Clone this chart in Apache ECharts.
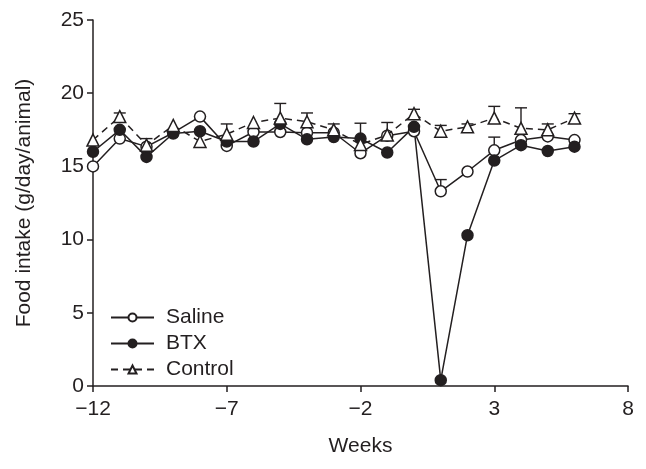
<!DOCTYPE html>
<html>
<head>
<meta charset="utf-8">
<script src="https://cdn.jsdelivr.net/npm/echarts@6/dist/echarts.min.js"></script>
<style>
  html, body { margin: 0; padding: 0; background: #fff; }
  #chart { width: 646px; height: 469px; }
</style>
</head>
<body>
<div id="chart"></div>
<script>
// weekly food intake, g/day/animal
var weeks = [-12, -11, -10, -9, -8, -7, -6, -5, -4, -3, -2, -1, 0, 1, 2, 3, 4, 5, 6];
var saline = [15.0, 16.9, 16.35, 17.3, 18.4, 16.4, 17.35, 17.35, 17.3, 17.3, 15.9, 17.1, 17.4, 13.3, 14.65, 16.1, 16.8, 17.05, 16.8];
var btx = [16.0, 17.5, 15.65, 17.25, 17.4, 16.7, 16.7, 17.9, 16.85, 17.0, 16.9, 15.95, 17.7, 0.4, 10.3, 15.4, 16.45, 16.05, 16.35];
var control = [16.8, 18.4, 16.45, 17.8, 16.7, 17.2, 18.0, 18.3, 18.05, 17.5, 16.5, 17.15, 18.6, 17.4, 17.7, 18.3, 17.6, 17.5, 18.3];
// upper error bar sizes (0 = none visible)
var controlErr = [0, 0.25, 0.45, 0, 0, 0.7, 0, 1.0, 0.6, 0.4, 1.45, 0.85, 0.3, 0.4, 0.2, 0.8, 1.4, 0.4, 0.3];
var salineErr = [0, 0, 0, 0, 0, 0, 0, 0, 0, 0, 0, 0, 0, 0.8, 0, 0.9, 0, 0, 0];

var ink = "#231f20";
var font = "Liberation Sans, Arial, sans-serif";

function pairs(vals) {
  return weeks.map(function(w, i) { return [w, vals[i]]; });
}
function errPairs(vals, errs) {
  var out = [];
  weeks.forEach(function(w, i) {
    if (errs[i] > 0) out.push([w, vals[i], errs[i]]);
  });
  return out;
}

function errorBar(params, api) {
  var x = api.value(0), y = api.value(1), e = api.value(2);
  var p0 = api.coord([x, y]);
  var p1 = api.coord([x, y + e]);
  var st = { stroke: ink, lineWidth: 1.4 };
  return {
    type: "group",
    children: [
      { type: "line", shape: { x1: p0[0], y1: p0[1], x2: p1[0], y2: p1[1] }, style: st },
      { type: "line", shape: { x1: p1[0] - 6, y1: p1[1], x2: p1[0] + 6, y2: p1[1] }, style: st }
    ]
  };
}

var option = {
  animation: false,
  backgroundColor: "#fff",
  textStyle: { fontFamily: font, color: ink },
  grid: { left: 93, right: 18, top: 20, bottom: 83 },
  legend: {
    orient: "vertical",
    left: 105,
    top: 302,
    itemWidth: 43,
    itemHeight: 10,
    itemGap: 5,
    data: ["Saline", "BTX", "Control"],
    textStyle: { fontSize: 21, color: ink, fontFamily: font, padding: [0, 0, 0, 7] }
  },
  xAxis: {
    type: "value",
    min: -12,
    max: 8,
    interval: 5,
    name: "Weeks",
    nameLocation: "middle",
    nameGap: 50,
    nameTextStyle: { fontSize: 21, color: ink },
    axisLine: { onZero: false, lineStyle: { color: ink, width: 1.5 } },
    axisTick: { length: 6, lineStyle: { color: ink, width: 1.5 } },
    axisLabel: {
      fontSize: 21, color: ink, margin: 13,
      formatter: function(v) { return v < 0 ? "\u2212" + Math.abs(v) : String(v); }
    },
    splitLine: { show: false }
  },
  yAxis: {
    type: "value",
    min: 0,
    max: 25,
    interval: 5,
    name: "Food intake (g/day/animal)",
    nameLocation: "middle",
    nameRotate: 90,
    nameGap: 58,
    nameTextStyle: { fontSize: 21, color: ink },
    axisLine: { show: true, onZero: false, lineStyle: { color: ink, width: 1.5 } },
    axisTick: { show: true, length: 6, lineStyle: { color: ink, width: 1.5 } },
    axisLabel: { fontSize: 21, color: ink, margin: 9 },
    splitLine: { show: false }
  },
  series: [
    {
      type: "custom",
      renderItem: errorBar,
      data: errPairs(control, controlErr),
      z: 1,
      silent: true
    },
    {
      type: "custom",
      renderItem: errorBar,
      data: errPairs(saline, salineErr),
      z: 1,
      silent: true
    },
    {
      name: "Saline",
      type: "line",
      data: pairs(saline),
      symbol: "circle",
      symbolSize: 11,
      lineStyle: { color: ink, width: 1.5 },
      itemStyle: { color: "#fff", borderColor: ink, borderWidth: 1.5 },
      z: 3
    },
    {
      name: "BTX",
      type: "line",
      data: pairs(btx),
      symbol: "circle",
      symbolSize: 11,
      lineStyle: { color: ink, width: 1.5 },
      itemStyle: { color: ink, borderColor: ink, borderWidth: 1.5 },
      z: 3
    },
    {
      name: "Control",
      type: "line",
      data: pairs(control),
      symbol: "triangle",
      symbolSize: 12,
      lineStyle: { color: ink, width: 1.5, type: [7, 5] },
      itemStyle: { color: "#fff", borderColor: ink, borderWidth: 1.5 },
      z: 4
    }
  ]
};

var chart = echarts.init(document.getElementById("chart"));
chart.setOption(option);
</script>
</body>
</html>
